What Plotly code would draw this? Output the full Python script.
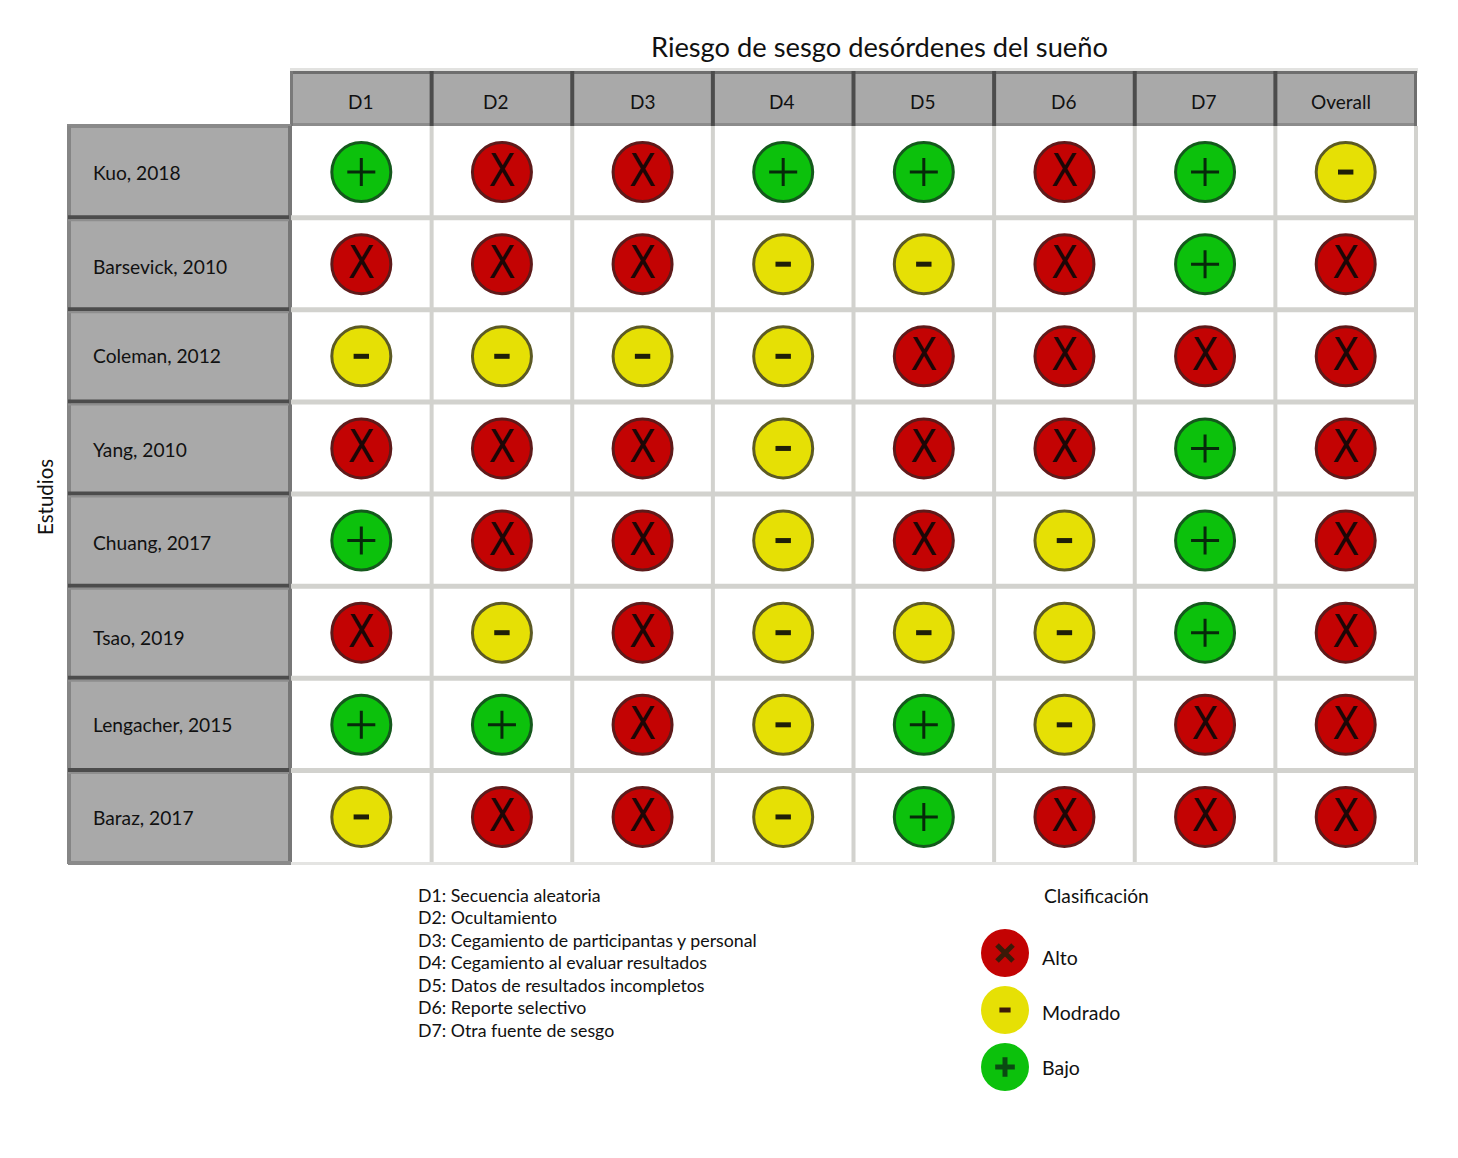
import plotly.graph_objects as go

W, H = 1458, 1158
FONT = "Lato"

title = "Riesgo de sesgo desórdenes del sueño"
columns = ["D1", "D2", "D3", "D4", "D5", "D6", "D7", "Overall"]
studies = ["Kuo, 2018", "Barsevick, 2010", "Coleman, 2012", "Yang, 2010",
           "Chuang, 2017", "Tsao, 2019", "Lengacher, 2015", "Baraz, 2017"]

# A = alto, M = moderado, B = bajo
kuo = ["B", "A", "A", "B", "B", "A", "B", "M"]
barsevick = ["A", "A", "A", "M", "M", "A", "B", "A"]
coleman = ["M", "M", "M", "M", "A", "A", "A", "A"]
yang = ["A", "A", "A", "M", "A", "A", "B", "A"]
chuang = ["B", "A", "A", "M", "A", "M", "B", "A"]
tsao = ["A", "M", "A", "M", "M", "M", "B", "A"]
lengacher = ["B", "B", "A", "M", "B", "M", "A", "A"]
baraz = ["M", "A", "A", "M", "B", "A", "A", "A"]
ratings = [kuo, barsevick, coleman, yang, chuang, tsao, lengacher, baraz]

domains = ["D1: Secuencia aleatoria", "D2: Ocultamiento",
           "D3: Cegamiento de participantas y personal",
           "D4: Cegamiento al evaluar resultados",
           "D5: Datos de resultados incompletos",
           "D6: Reporte selectivo", "D7: Otra fuente de sesgo"]
legend_labels = ["Alto", "Modrado", "Bajo"]
legend_codes = ["A", "M", "B"]

fill = {"A": "#c30303", "M": "#e6e005", "B": "#0cc10c"}
edge = {"A": "#5e1a1a", "M": "#5c5a24", "B": "#14591c"}

# pixel helpers, the page is drawn 1:1
def px(x):
    return x / W

def py(y):
    return 1 - y / H

grid_l, grid_r, grid_t, grid_b = 291, 1416, 126, 863
head_t, label_l = 71, 68
col_w = (grid_r - grid_l) / len(columns)
row_h = (grid_b - grid_t) / len(studies)

fig = go.Figure()

for code in legend_codes:
    xs, ys = [], []
    for study, row in zip(studies, ratings):
        for col, val in zip(columns, row):
            if val == code:
                xs.append(col)
                ys.append(study)
    fig.add_trace(go.Scatter(
        x=xs, y=ys, mode="markers", showlegend=False, hoverinfo="x+y",
        marker=dict(size=59, color=fill[code], line=dict(color=edge[code], width=3)),
    ))
    if code == "A":
        # text sits a little high, so it goes on an axis nudged down (y3)
        fig.add_trace(go.Scatter(
            x=xs, y=ys, yaxis="y3", mode="text", text=["X"] * len(xs), showlegend=False,
            textposition="middle center", hoverinfo="skip",
            textfont=dict(family="DejaVu Sans Condensed", size=44, color="#1c0606"),
        ))
    elif code == "M":
        fig.add_trace(go.Scatter(
            x=xs, y=ys, mode="markers", showlegend=False, hoverinfo="skip",
            marker=dict(symbol="line-ew", size=11, line=dict(color="#1f1f08", width=5)),
        ))
    else:
        fig.add_trace(go.Scatter(
            x=xs, y=ys, mode="markers", showlegend=False, hoverinfo="skip",
            marker=dict(symbol="cross-thin", size=20, line=dict(color="#062a0a", width=3)),
        ))

# legend circles
glyph = {"A": "x-thin", "M": "line-ew", "B": "cross-thin"}
glyph_size = {"A": 16, "M": 8, "B": 14}
for label, code in zip(legend_labels, legend_codes):
    fig.add_trace(go.Scatter(
        x=[0], y=[label], xaxis="x2", yaxis="y2", mode="markers", showlegend=False,
        marker=dict(size=48, color=fill[code], line=dict(width=0)),
    ))
    fig.add_trace(go.Scatter(
        x=[0], y=[label], xaxis="x2", yaxis="y2", mode="markers", showlegend=False,
        hoverinfo="skip",
        marker=dict(symbol=glyph[code], size=glyph_size[code],
                    line=dict(color="#3a1a08" if code != "B" else "#0a4a12", width=5)),
    ))

shapes = []

def rect(x0, y0, x1, y1, color):
    shapes.append(dict(type="rect", xref="paper", yref="paper", layer="below",
                       x0=px(x0), x1=px(x1), y0=py(y0), y1=py(y1),
                       fillcolor=color, line=dict(width=0)))

# header band and study column
rect(290, 68, 1418, 73, "#e2e2e0")
rect(grid_l, head_t, grid_r, grid_t, "#a9a9a9")
rect(grid_l, head_t, grid_r, head_t + 3, "#6e6e6e")
rect(grid_l, grid_t - 3, grid_r, grid_t, "#8c8c8c")
rect(1414, head_t, 1417, grid_t, "#6e6e6e")
rect(grid_l - 1, head_t, grid_l + 2, grid_t, "#7a7a7a")
rect(label_l, grid_t, grid_l, grid_b + 1, "#a9a9a9")
rect(label_l - 1, grid_t - 2, grid_l, grid_t + 2, "#8a8a8a")
rect(label_l - 1, grid_t, label_l + 3, grid_b + 1, "#858585")
rect(grid_l - 3, grid_t, grid_l + 1, grid_b + 1, "#777777")
rect(label_l, grid_b - 2, grid_l, grid_b + 2, "#8a8a8a")

# cell grid
for i in range(1, len(columns) + 1):
    x = grid_l + i * col_w
    rect(x - 2, grid_t, x + 2, grid_b + 2, "#d2d2ce")
    if i < len(columns):
        rect(x - 2, head_t, x + 2, grid_t, "#4c4c4c")
for i in range(1, len(studies)):
    y = grid_t + i * row_h
    rect(grid_l, y - 3, grid_r, y + 2, "#d2d2ce")
    rect(label_l, y - 3, grid_l - 2, y + 1, "#4c4c4c")
    rect(label_l, y + 1, grid_l - 2, y + 3, "#8e8e8e")
rect(grid_l, grid_b - 1, grid_r + 1, grid_b + 2, "#e4e4e2")

ann = []

def text(x, y, s, size, anchor="left", angle=0):
    ann.append(dict(xref="paper", yref="paper", x=px(x), y=py(y), text=s, showarrow=False,
                    xanchor=anchor, yanchor="middle", textangle=angle,
                    font=dict(family=FONT, size=size, color="#111111")))

text(879, 47, title, 27.3, "center")
text(45, 497, "Estudios", 20.5, "center", -90)

head_x = [360, 495, 642, 781, 922, 1063, 1203, 1341]
for x, c in zip(head_x, columns):
    text(x, 102, c, 19, "center")

label_y = [172, 267, 355, 449, 542, 637, 724, 817]
for y, s in zip(label_y, studies):
    text(91, y, s, 19.2)

note_y = [895, 917, 940, 962, 985, 1007, 1030]
for y, s in zip(note_y, domains):
    text(416, y, s, 17.75)

text(1096, 895, "Clasificación", 19.2, "center")
for y, s in zip([957, 1012, 1067], legend_labels):
    text(1040, y, s, 19.5)

fig.update_layout(
    width=W, height=H, margin=dict(l=0, r=0, t=0, b=0),
    paper_bgcolor="white", plot_bgcolor="rgba(0,0,0,0)",
    shapes=shapes, annotations=ann, hovermode="closest",
    xaxis=dict(domain=[px(grid_l), px(grid_r)], type="category",
               categoryorder="array", categoryarray=columns,
               range=[-0.5, len(columns) - 0.5], visible=False, fixedrange=True),
    yaxis=dict(domain=[py(grid_b), py(grid_t)], type="category",
               categoryorder="array", categoryarray=studies,
               range=[len(studies) - 0.5, -0.5], visible=False, fixedrange=True),
    xaxis2=dict(domain=[px(981), px(1029)], anchor="y2", range=[-1, 1],
                visible=False, fixedrange=True),
    yaxis2=dict(domain=[py(1095.5), py(924.5)], anchor="x2", type="category",
                categoryorder="array", categoryarray=legend_labels,
                range=[2.5, -0.5], visible=False, fixedrange=True),
    yaxis3=dict(domain=[py(grid_b + 3), py(grid_t + 3)], anchor="x", type="category",
                categoryorder="array", categoryarray=studies,
                range=[len(studies) - 0.5, -0.5], visible=False, fixedrange=True),
)

fig.write_html("out.html", config=dict(displayModeBar=False),
               post_script="document.body.style.margin='0';")
